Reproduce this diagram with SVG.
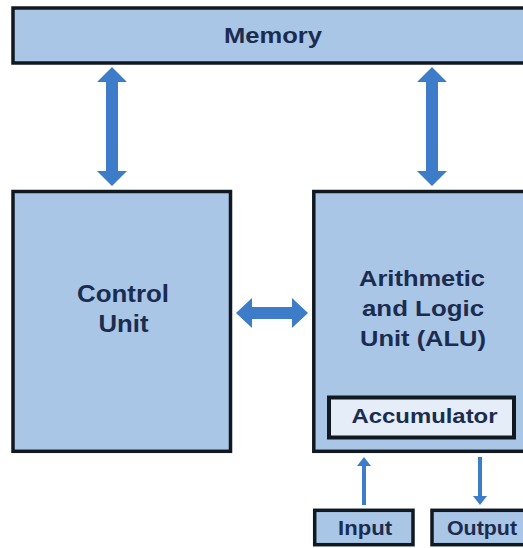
<svg xmlns="http://www.w3.org/2000/svg" width="523" height="548" viewBox="0 0 523 548">
<style>
.box{fill:#a9c6e7;stroke:#111820;stroke-width:3.5}
.acc{fill:#e4edf8;stroke:#111820;stroke-width:4}
.t{font-family:"Liberation Sans",Arial,sans-serif;font-weight:bold;fill:#1b2c4f;text-anchor:middle}
.arr{fill:#3d7cc8}
.ln{stroke:#3d7cc8;stroke-width:4;fill:none}
</style>
<rect width="523" height="548" fill="#ffffff"/>
<g id="memory">
<rect class="box" x="13" y="8" width="530" height="55"/>
<text class="t" x="273" y="43" font-size="22" textLength="98" lengthAdjust="spacingAndGlyphs">Memory</text>
</g>
<g id="control-unit">
<rect class="box" x="13" y="191.5" width="217.5" height="259.8"/>
<text class="t" x="123" y="302" font-size="23" textLength="92" lengthAdjust="spacingAndGlyphs">Control</text>
<text class="t" x="123.5" y="332" font-size="23" textLength="50" lengthAdjust="spacingAndGlyphs">Unit</text>
</g>
<g id="alu">
<rect class="box" x="313.8" y="191.5" width="230" height="259.8"/>
<text class="t" x="422" y="286" font-size="22" textLength="126" lengthAdjust="spacingAndGlyphs">Arithmetic</text>
<text class="t" x="423" y="316" font-size="22" textLength="122" lengthAdjust="spacingAndGlyphs">and Logic</text>
<text class="t" x="423" y="346" font-size="22" textLength="126" lengthAdjust="spacingAndGlyphs">Unit (ALU)</text>
</g>
<g id="accumulator">
<rect class="acc" x="329" y="397.5" width="185" height="40"/>
<text class="t" x="424.5" y="423" font-size="21" textLength="146" lengthAdjust="spacingAndGlyphs">Accumulator</text>
</g>
<g id="input">
<rect class="box" x="314.7" y="510.3" width="98.3" height="34.4"/>
<text class="t" x="365" y="535" font-size="20" textLength="54" lengthAdjust="spacingAndGlyphs">Input</text>
</g>
<g id="output">
<rect class="box" x="432" y="510.3" width="110" height="34.4"/>
<text class="t" x="482" y="535" font-size="20" textLength="70" lengthAdjust="spacingAndGlyphs">Output</text>
</g>
<g id="connectors">
<polygon class="arr" points="112,67 127,82 118,82 118,171 127,171 112,186 97,171 106,171 106,82 97,82"/>
<polygon class="arr" points="432,67 447,82 438,82 438,171 447,171 432,186 417,171 426,171 426,82 417,82"/>
<polygon class="arr" points="236,313 252,298 252,307 292,307 292,298 308,313 292,328 292,319 252,319 252,328"/>
<line class="ln" x1="364" y1="505" x2="364" y2="464"/>
<polygon class="arr" points="364,457 371,466 357,466"/>
<line class="ln" x1="480" y1="457" x2="480" y2="498"/>
<polygon class="arr" points="480,505 487,496 473,496"/>
</g>
</svg>
